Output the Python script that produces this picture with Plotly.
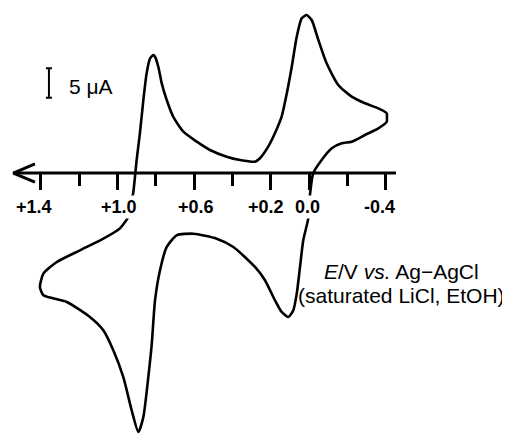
import plotly.graph_objects as go

# ---------------- data ----------------
# potential E / V (vs. Ag-AgCl), traced around the closed CV loop
E_V = [-0.022, -0.066, -0.119, -0.171, -0.223, -0.292, -0.362, -0.406, -0.407, -0.406,
       -0.362, -0.292, -0.223, -0.153, -0.092, -0.049, -0.014, 0.012, 0.038, 0.064,
       0.090, 0.116, 0.143, 0.178, 0.213, 0.256, 0.282, 0.360, 0.430, 0.517,
       0.586, 0.656, 0.709, 0.743, 0.769, 0.787, 0.804, 0.813, 0.830, 0.848,
       0.865, 0.883, 0.900, 0.917, 0.930, 0.944, 0.987, 1.074, 1.196, 1.317,
       1.387, 1.405, 1.387, 1.265, 1.144, 1.074, 1.022, 0.970, 0.926, 0.891,
       0.865, 0.839, 0.821, 0.804, 0.778, 0.743, 0.691, 0.604, 0.482, 0.395,
       0.282, 0.230, 0.178, 0.143, 0.108, 0.082, 0.064, 0.047, 0.030, 0.004,
       -0.005, -0.022]
# current / uA
I_uA = [-0.05, 2.20, 4.19, 5.03, 5.31, 6.44, 7.57, 8.69, 9.49, 10.12,
        10.96, 11.82, 12.94, 14.91, 18.59, 22.54, 25.93, 26.77, 26.22, 23.10,
        18.01, 13.50, 9.54, 6.73, 4.46, 2.50, 1.92, 2.20, 2.76, 3.90,
        5.31, 7.00, 9.54, 12.37, 15.20, 18.01, 19.71, 20.00, 19.44, 16.89,
        12.37, 6.73, 2.20, -3.17, -5.42, -7.46, -9.38, -11.13, -13.10, -15.08,
        -17.06, -19.32, -20.73, -21.86, -24.40, -26.66, -30.05, -34.57, -40.22, -43.89,
        -41.35, -34.57, -28.93, -21.57, -16.49, -12.54, -10.56, -10.29, -11.13, -12.54,
        -15.93, -18.18, -21.57, -23.55, -24.40, -23.27, -20.45, -15.93, -11.41, -7.74,
        -3.73, -0.05]

tick_values = [1.4, 1.0, 0.6, 0.2, 0.0, -0.4]
tick_labels = ["+1.4", "+1.0", "+0.6", "+0.2", "0.0", "-0.4"]
minor_tick_values = [1.2, 0.8, 0.4, -0.2]
scale_bar_uA = 5
scale_label = "5 μA"
axis_title_1 = "<i>E</i>/V <i>vs.</i> Ag\u2212AgCl"
axis_title_2 = "(saturated LiCl, EtOH)"

# ---------------- layout constants ----------------
# the page body adds an 8px margin, so the figure is 8px smaller than the window
FIG_W, FIG_H = 502, 426
X_RANGE = [1.5718, -1.0496]
Y_RANGE = [-44.24, 27.97]
AXIS_POS = (0 - Y_RANGE[0]) / (Y_RANGE[1] - Y_RANGE[0])
AXIS_LEFT, AXIS_RIGHT = 1.544, -0.454
ARROW_BACK, ARROW_HALF = 1.431, 1.55
LABEL_Y = -5.68
LABEL_SHIFT = [-7, 1, 2, -5, -2, -6]
FONT = "Liberation Sans, Arial, sans-serif"

fig = go.Figure()

# the voltammogram
fig.add_trace(go.Scatter(x=E_V, y=I_uA, mode="lines",
                         line=dict(color="black", width=2.6, shape="spline", smoothing=0.6),
                         hoverinfo="skip", showlegend=False))

# axis line with open arrowhead at the positive end
fig.add_trace(go.Scatter(x=[AXIS_RIGHT, AXIS_LEFT], y=[0, 0], mode="lines",
                         line=dict(color="black", width=3), hoverinfo="skip", showlegend=False))
fig.add_trace(go.Scatter(x=[ARROW_BACK, AXIS_LEFT, ARROW_BACK], y=[ARROW_HALF, 0, -ARROW_HALF],
                         mode="lines", line=dict(color="black", width=3),
                         hoverinfo="skip", showlegend=False))

# 5 uA scale bar
fig.add_trace(go.Scatter(x=[1.358], y=[15.25], mode="markers",
                         marker=dict(size=0.1, color="rgba(0,0,0,0)"),
                         error_y=dict(type="data", array=[scale_bar_uA / 2], symmetric=True,
                                      color="black", thickness=2, width=3),
                         hoverinfo="skip", showlegend=False))

annotations = []
for v, t, s in zip(tick_values, tick_labels, LABEL_SHIFT):
    annotations.append(dict(x=v, y=LABEL_Y, xref="x", yref="y", text=t, showarrow=False,
                            xshift=s, xanchor="center", yanchor="middle",
                            bgcolor="white", borderpad=1,
                            font=dict(family=FONT, size=18, color="black", weight="bold")))
annotations.append(dict(x=1.265, y=14.6, xref="x", yref="y", text=scale_label, showarrow=False,
                        xanchor="left", yanchor="middle",
                        font=dict(family=FONT, size=21, color="black")))
annotations.append(dict(x=-0.484, y=-16.61, xref="x", yref="y", text=axis_title_1, showarrow=False,
                        xanchor="center", yanchor="middle", borderpad=0,
                        font=dict(family=FONT, size=21, color="black")))
annotations.append(dict(x=-0.481, y=-20.68, xref="x", yref="y", text=axis_title_2, showarrow=False,
                        xanchor="center", yanchor="middle", borderpad=0,
                        font=dict(family=FONT, size=21, color="black")))

fig.update_layout(
    width=FIG_W, height=FIG_H,
    margin=dict(l=0, r=0, t=0, b=0),
    paper_bgcolor="white", plot_bgcolor="white",
    showlegend=False,
    annotations=annotations,
    xaxis=dict(range=X_RANGE, anchor="free", position=AXIS_POS, side="bottom",
               showgrid=False, zeroline=False, showline=False,
               tickmode="array", tickvals=tick_values, ticktext=tick_labels,
               showticklabels=False, ticks="outside", ticklen=16, tickwidth=2.5,
               tickcolor="black",
               minor=dict(tickmode="array", tickvals=minor_tick_values, ticks="outside",
                          ticklen=12, tickwidth=2.5, tickcolor="black", showgrid=False)),
    yaxis=dict(range=Y_RANGE, visible=False),
)

fig.write_html("out.html")
